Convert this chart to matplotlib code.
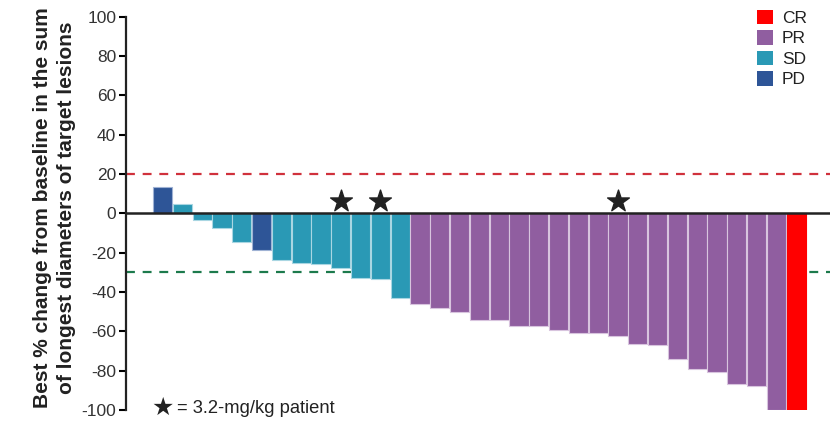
import matplotlib
matplotlib.use('Agg')
import matplotlib.pyplot as plt
from matplotlib.patches import Patch

plt.rcParams['font.family'] = ['Liberation Sans', 'DejaVu Sans']
plt.rcParams['axes.unicode_minus'] = False

# best % change per patient, sorted as in the waterfall
values = [13.2, 4.6, -3.4, -7.6, -14.4, -18.7, -23.8, -25.3, -25.8, -27.5, -32.8, -33.4, -42.8,
          -46.3, -48.0, -49.9, -54.0, -54.0, -57.0, -57.0, -59.3, -60.7, -60.7, -62.2,
          -66.2, -66.9, -73.9, -79.2, -80.5, -86.6, -88.0, -100.0, -100.0]
response = ['PD', 'SD', 'SD', 'SD', 'SD', 'PD', 'SD', 'SD', 'SD', 'SD', 'SD', 'SD', 'SD'] + \
           ['PR'] * 19 + ['CR']
starred = [9, 11, 23]   # 3.2-mg/kg patients

colors = {'CR': '#ff0000', 'PR': '#905ea0', 'SD': '#2a99b5', 'PD': '#2e5597'}
edges = {'CR': '#ff0000', 'PR': '#d8c4de', 'SD': '#a9d6e2', 'PD': '#9fb2d4'}

fig = plt.figure(figsize=(8.34, 4.21), dpi=100)
ax = fig.add_axes([0.151, 0.026, 0.844, 0.934])

x = list(range(len(values)))
ax.bar(x, values, width=0.97, color=[colors[r] for r in response],
       edgecolor=[edges[r] for r in response], linewidth=0.8, zorder=2)

ax.axhline(0, color='#222222', lw=1.8, zorder=3)
ax.axhline(20, color='#d0313c', lw=1.6, ls=(0, (4, 3.5)), zorder=1)
ax.axhline(-30, color='#1c7a4c', lw=1.6, ls=(0, (4, 3.5)), zorder=1)

ax.scatter(starred, [6.5] * len(starred), marker='*', s=270, color='#222222', zorder=4)

ax.set_xlim(-1.85, len(values) + 0.7)
ax.set_ylim(-100, 100)
ax.set_yticks(range(-100, 101, 20))
ax.tick_params(axis='y', labelsize=12.5, labelcolor='#333333', length=5, width=1.5,
               direction='out', pad=2)
ax.set_xticks([])
for s in ['top', 'right', 'bottom']:
    ax.spines[s].set_visible(False)
ax.spines['left'].set_linewidth(1.6)
ax.spines['left'].set_color('#222222')

ax.set_ylabel('Best % change from baseline in the sum\nof longest diameters of target lesions',
              fontsize=15, fontweight='bold', color='#222222', linespacing=1.35)
ax.yaxis.set_label_coords(-0.071, 0.515)

handles = [Patch(facecolor=colors[k], edgecolor='none', label=k) for k in ['CR', 'PR', 'SD', 'PD']]
leg = ax.legend(handles=handles, loc='upper right', bbox_to_anchor=(0.982, 1.045), frameon=False,
                fontsize=12.5, handlelength=0.9, handleheight=0.9, handletextpad=0.5,
                labelspacing=0.25, borderaxespad=0.2)
for t in leg.get_texts():
    t.set_color('#222222')

ax.text(0.0, -99, '★', fontsize=18, color='#222222',
        family=['DejaVu Sans'], va='center', ha='center')
ax.text(0.72, -99, '= 3.2-mg/kg patient', fontsize=13.2,
        color='#222222', va='center', ha='left')

fig.savefig('out.png', dpi=100)
